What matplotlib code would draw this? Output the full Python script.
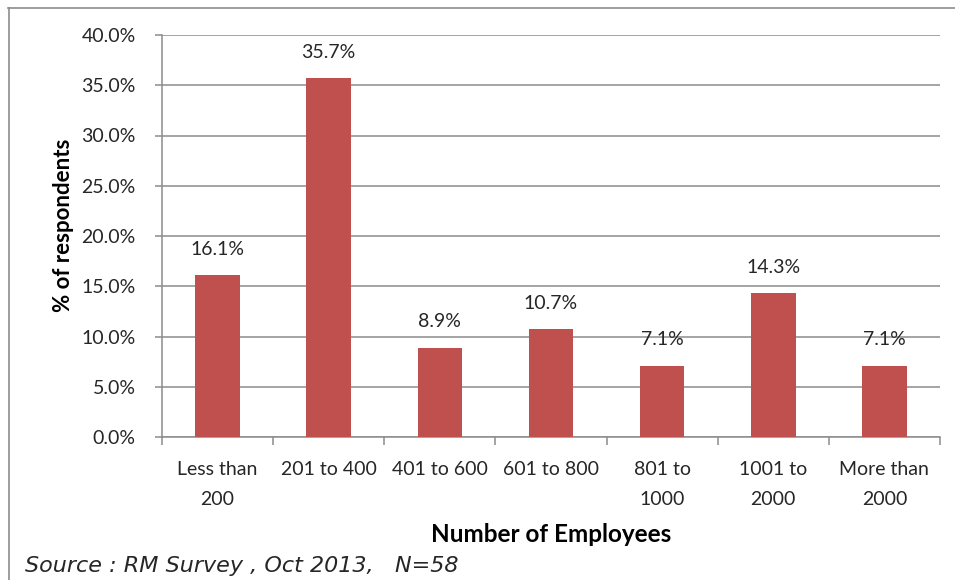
import numpy as np
import matplotlib.pyplot as plt
from matplotlib.lines import Line2D
from matplotlib.ticker import MultipleLocator, FuncFormatter, FixedLocator

plt.rcParams['font.family'] = ['Lato', 'DejaVu Sans']

categories = ['Less than\n200', '201 to 400', '401 to 600', '601 to 800',
              '801 to\n1000', '1001 to\n2000', 'More than\n2000']
share = [16.1, 35.7, 8.9, 10.7, 7.1, 14.3, 7.1]

bar_color = '#C0504D'
grid_color = '#8C8C8C'
text_color = '#262626'

fig = plt.figure(figsize=(9.55, 5.8), dpi=100)
ax = fig.add_axes([162 / 955, 1 - 437 / 580, 778 / 955, 402 / 580])

x = np.arange(len(categories))
ax.bar(x, share, width=0.4, color=bar_color, zorder=3)
for xi, v in zip(x, share):
    ax.annotate(f'{v:.1f}%', (xi, v), xytext=(0, 18.5), textcoords='offset points',
                ha='center', va='center', fontsize=14, color=text_color)

ax.set_xlim(-0.5, len(categories) - 0.5)
ax.set_ylim(0, 40)
ax.yaxis.set_major_locator(MultipleLocator(5))
ax.yaxis.set_major_formatter(FuncFormatter(lambda v, _: f'{v:.1f}%'))
ax.grid(axis='y', color=grid_color, linewidth=1.1, zorder=0)

# category labels centred under bars, tick marks on the boundaries
ax.set_xticks(x)
ax.set_xticklabels(categories, fontsize=14, color=text_color, linespacing=1.95)
ax.tick_params(axis='x', length=0, pad=17)
ax.xaxis.set_minor_locator(FixedLocator(np.arange(-0.5, len(categories), 1.0)))
ax.tick_params(axis='x', which='minor', length=6, color=grid_color, width=1.1)
ax.tick_params(axis='y', length=5, color=grid_color, width=1.1, pad=14,
               labelsize=14, labelcolor=text_color)

for side in ('top', 'right'):
    ax.spines[side].set_visible(False)
for side in ('left', 'bottom'):
    ax.spines[side].set_color(grid_color)
    ax.spines[side].set_linewidth(1.1)

fig.text(63 / 955, 1 - 225 / 580, '% of respondents', rotation=90, ha='center',
         va='center', fontsize=16, fontweight='bold')
fig.text(551 / 955, 1 - 535 / 580, 'Number of Employees', ha='center', va='center',
         fontsize=17.5, fontweight='bold')
fig.text(25 / 955, 1 - 566 / 580, 'Source : RM Survey , Oct 2013,   N=58',
         ha='left', va='center', fontsize=16, style='italic', color=text_color,
         family='DejaVu Sans')

# outer chart frame
fig.add_artist(Line2D([8 / 955, 1], [1 - 8 / 580] * 2, color=grid_color, linewidth=1.2))
fig.add_artist(Line2D([9 / 955] * 2, [0, 1 - 8 / 580], color=grid_color, linewidth=1.2))

fig.savefig('out.png', dpi=100, facecolor='white')
